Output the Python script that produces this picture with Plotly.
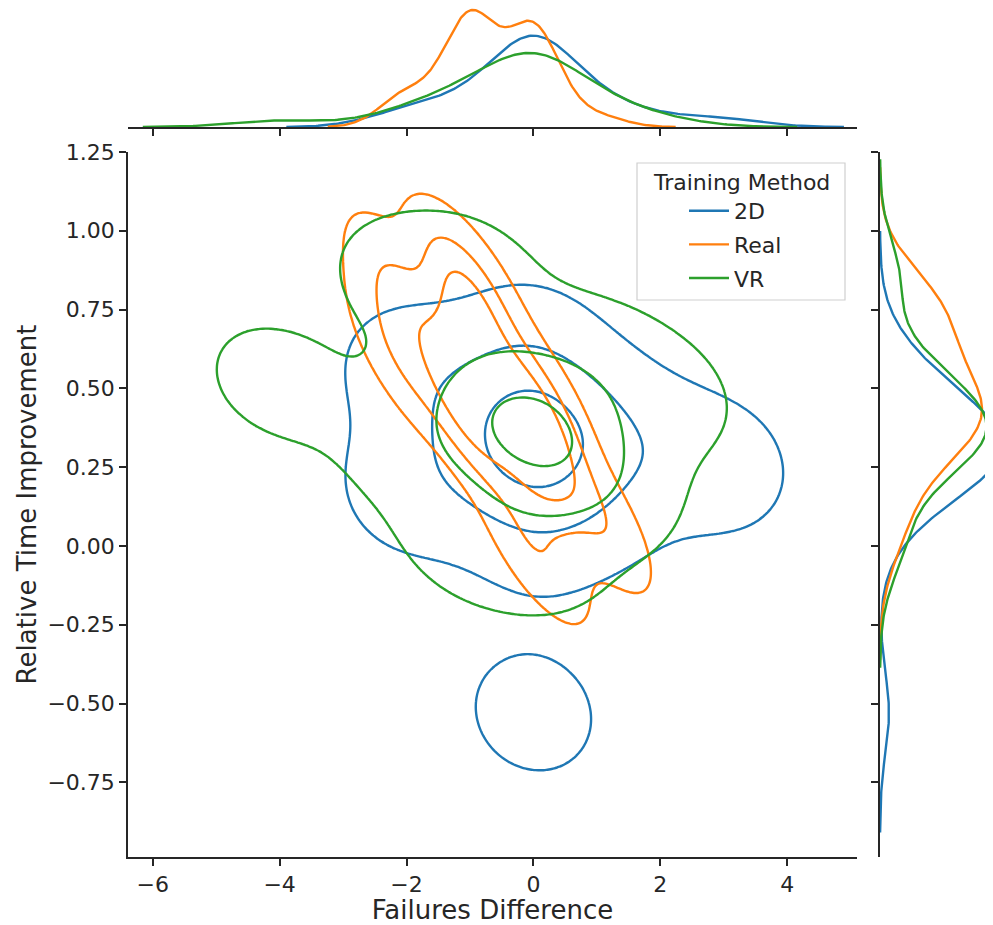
import numpy as np
import plotly.graph_objects as go

# ---------------- data ----------------
groups = ["2D", "Real", "VR"]
colors = ["#1f77b4", "#ff7f0e", "#2ca02c"]

fail_2d = [-2, -2, -1, -1, -1, 0, 0, 0, 0, 0, 0, 0, 0, 0, 0, 0, 1, 1, 1, 2, 3]
time_2d = [0.55, 0.18, 0.50, 0.22, 0.35, 0.30, 0.34, 0.38, 0.27, 0.42, 0.22,
           0.48, 0.62, 0.05, 0.33, -0.53, 0.32, 0.42, 0.15, 0.30, 0.25]

fail_real = [-2, -2, -2, -1, -1, -1, -1, -1, -1, -1, -1, -1, -1,
             0, 0, 0, 0, 0, 0, 0, 0, 0, 1]
time_real = [0.80, 0.70, 0.58, 0.84, 0.79, 0.74, 0.68, 0.62, 0.56, 0.50, 0.45,
             0.40, 0.36, 0.50, 0.44, 0.40, 0.38, 0.35, 0.31, 0.26, 0.18, 0.00, 0.10]

fail_vr = [-4, -2, -2, -1, -1, -1, -1, 0, 0, 0, 0, 0, 0, 0, 0, 0, 1, 1, 1, 2]
time_vr = [0.52, 0.84, 0.30, 0.86, 0.50, 0.36, 0.02, 0.37, 0.35, 0.39, 0.33,
           0.41, 0.36, 0.22, 0.55, -0.02, 0.30, 0.60, 0.16, 0.48]

x_ticks = [-6, -4, -2, 0, 2, 4]
x_tick_text = ["\u22126", "\u22124", "\u22122", "0", "2", "4"]
y_ticks = [-0.75, -0.5, -0.25, 0.0, 0.25, 0.5, 0.75, 1.0, 1.25]
y_tick_text = ["\u22120.75", "\u22120.50", "\u22120.25", "0.00", "0.25",
               "0.50", "0.75", "1.00", "1.25"]

contour_props = [0.05, 0.3667, 0.6833]   # iso-proportions (seaborn levels=4)

data = {
    "2D": (fail_2d, time_2d),
    "Real": (fail_real, time_real),
    "VR": (fail_vr, time_vr),
}

X_RANGE = [-6.39, 5.1]
Y_RANGE = [-0.987, 1.25]


# ---------------- KDE helpers (scipy-like, Scott bandwidth) ----------------
def kde2d(xs, ys, gx, gy):
    pts = np.vstack([xs, ys]).astype(float)
    n = pts.shape[1]
    fac = n ** (-1.0 / 6.0)
    cov = np.cov(pts) * fac ** 2
    inv = np.linalg.inv(cov)
    norm = 1.0 / (2 * np.pi * np.sqrt(np.linalg.det(cov)))
    GX, GY = np.meshgrid(gx, gy)
    dx = GX[..., None] - pts[0]
    dy = GY[..., None] - pts[1]
    q = inv[0, 0] * dx ** 2 + 2 * inv[0, 1] * dx * dy + inv[1, 1] * dy ** 2
    return np.exp(-0.5 * q).sum(-1) * norm / n


def quantile_to_level(z, props):
    vals = np.sort(np.ravel(z))[::-1]
    cum = np.cumsum(vals) / vals.sum()
    idx = np.searchsorted(cum, 1 - np.asarray(props))
    return np.take(vals, idx, mode="clip")


def kde1d(v, npts=300, cut=3):
    v = np.asarray(v, float)
    n = len(v)
    bw = v.std(ddof=1) * n ** (-0.2)
    g = np.linspace(v.min() - cut * bw, v.max() + cut * bw, npts)
    d = np.exp(-0.5 * ((g[:, None] - v) / bw) ** 2).sum(1) / (n * bw * np.sqrt(2 * np.pi))
    return g, d


gx = np.linspace(-7.5, 6.5, 330)
gy = np.linspace(-1.3, 1.6, 330)

n_total = sum(len(v[0]) for v in data.values())

# common normalisation (hue groups weighted by size) and common levels
dens2d = {}
for name in groups:
    xs, ys = data[name]
    dens2d[name] = kde2d(xs, ys, gx, gy) * len(xs) / n_total
levels = quantile_to_level(np.concatenate([d.ravel() for d in dens2d.values()]),
                           contour_props)

fig = go.Figure()

top_marg = {}
right_marg = {}
for name, col in zip(groups, colors):
    xs, ys = data[name]
    z = dens2d[name]
    for lv in levels:
        fig.add_trace(go.Contour(
            x=gx, y=gy, z=z,
            autocontour=False,
            contours=dict(start=float(lv), end=float(lv), size=1.0, coloring="lines"),
            colorscale=[[0, col], [1, col]],
            showscale=False,
            line=dict(width=2.4, smoothing=1.0),
            hoverinfo="skip",
            showlegend=False,
            xaxis="x", yaxis="y",
        ))
    w = len(xs) / n_total
    g1, d1 = kde1d(xs)
    top_marg[name] = (g1, d1 * w)
    g2, d2 = kde1d(ys)
    right_marg[name] = (g2, d2 * w)

for name, col in zip(groups, colors):
    g1, d1 = top_marg[name]
    fig.add_trace(go.Scatter(x=g1, y=d1, mode="lines", line=dict(color=col, width=2.4),
                             xaxis="x3", yaxis="y2", showlegend=False, hoverinfo="skip"))
    g2, d2 = right_marg[name]
    fig.add_trace(go.Scatter(x=d2, y=g2, mode="lines", line=dict(color=col, width=2.4),
                             xaxis="x2", yaxis="y3", showlegend=False, hoverinfo="skip"))

# legend entries
for name, col in zip(groups, colors):
    fig.add_trace(go.Scatter(x=[None], y=[None], mode="lines", name=name, legendgroup=name,
                             line=dict(color=col, width=2.4), xaxis="x", yaxis="y"))

top_max = max(d.max() for _, d in top_marg.values())
right_ref = right_marg["Real"][1].max()

# The page body has an 8px margin, so the figure is drawn 8px right/down.
OFF = 8
W, H = 993 - OFF, 925 - OFF


def px(x):
    return (x - OFF) / W


def py(y):
    return (H - (y - OFF)) / H


ink = "#262626"
font = dict(family="DejaVu Sans", size=22, color=ink)
axis_common = dict(showline=True, linecolor=ink, linewidth=1.6, ticks="outside",
                   ticklen=7, tickwidth=1.6, tickcolor=ink, showgrid=False,
                   zeroline=False, automargin=False)

fig.update_layout(
    width=W, height=H,
    margin=dict(l=0, r=0, t=0, b=0),
    paper_bgcolor="white", plot_bgcolor="white",
    font=font,
    xaxis=dict(domain=[px(128), px(857)], range=X_RANGE, anchor="y", tickvals=x_ticks,
               ticktext=x_tick_text, title=dict(text="Failures Difference", standoff=8),
               **axis_common),
    yaxis=dict(domain=[py(857), py(152)], range=Y_RANGE, anchor="x", tickvals=y_ticks,
               ticktext=y_tick_text, title=dict(text="Relative Time Improvement", standoff=3),
               **axis_common),
    xaxis3=dict(domain=[px(128), px(857)], range=X_RANGE, anchor="y2", matches="x",
                tickvals=x_ticks, showticklabels=False, **axis_common),
    yaxis2=dict(domain=[py(127), 1.0], range=[0, top_max * 119 / 117], anchor="x3",
                visible=False),
    xaxis2=dict(domain=[px(880), 1.0], range=[0, right_ref * 113 / 102], anchor="y3",
                visible=False),
    yaxis3=dict(domain=[py(857), py(152)], range=Y_RANGE, anchor="x2", matches="y",
                tickvals=y_ticks, showticklabels=False, **axis_common),
    legend=dict(
        x=px(684), y=py(190), xanchor="left", yanchor="top",
        bgcolor="rgba(0,0,0,0)", borderwidth=0,
        font=font, itemwidth=40, tracegroupgap=2,
    ),
    shapes=[dict(type="rect", xref="paper", yref="paper",
                 x0=px(637), x1=px(845), y0=py(300), y1=py(163),
                 fillcolor="rgba(255,255,255,0.8)", line=dict(color="#cfcfcf", width=1.2),
                 layer="above")],
    annotations=[dict(text="Training Method", xref="paper", yref="paper",
                      x=px(741), y=py(182), xanchor="center", yanchor="middle",
                      showarrow=False, font=font)],
)

fig.write_html("out.html")
